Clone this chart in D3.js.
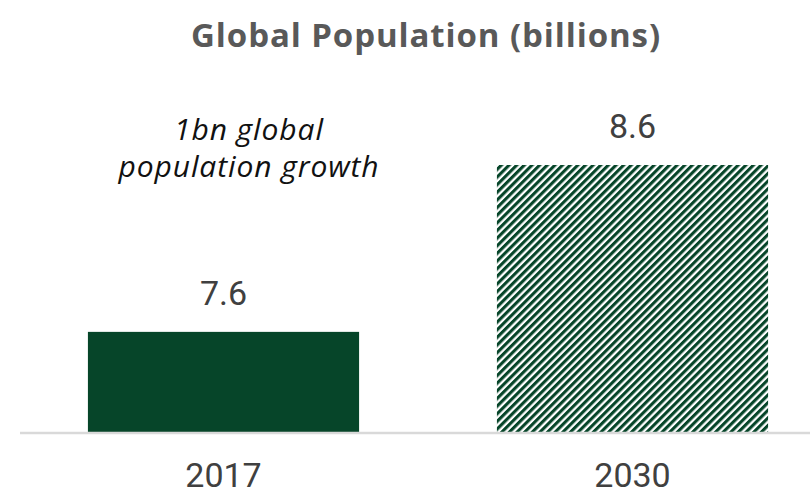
<!DOCTYPE html>
<html>
<head>
<meta charset="utf-8">
<script src="https://cdn.jsdelivr.net/npm/d3@7"></script>
<style>
  body { margin: 0; background: #fff; }
  svg { display: block; }
</style>
</head>
<body>
<svg id="chart" width="810" height="495"></svg>
<script>
// chart data
const years = ["2017", "2030"];
const population = [7.6, 8.6];
const projected = [false, true];

const svg = d3.select("#chart");
const green = "#064529";

// hatch pattern for the projected bar
const defs = svg.append("defs");
const pattern = defs.append("pattern")
    .attr("id", "hatch")
    .attr("patternUnits", "userSpaceOnUse")
    .attr("width", 5.4)
    .attr("height", 5.4)
    .attr("patternTransform", "rotate(45)");
pattern.append("rect").attr("width", 5.4).attr("height", 5.4).attr("fill", "#fff");
pattern.append("rect").attr("width", 3.1).attr("height", 5.4).attr("fill", green);

// scales (value axis does not start at zero)
const x = d3.scaleBand()
    .domain(years)
    .range([19, 837])
    .paddingInner(0.337)
    .paddingOuter(0.1685);

const y = d3.scaleLinear()
    .domain([7.0, 8.6])
    .range([432, 165]);

// title
svg.append("text")
    .attr("x", 426)
    .attr("y", 47)
    .attr("text-anchor", "middle")
    .style("font-family", "'Open Sans', sans-serif")
    .style("font-weight", "bold")
    .style("font-size", "33px")
    .style("letter-spacing", "0.9px")
    .style("fill", "#595959")
    .text("Global Population (billions)");

// bars
svg.selectAll(".bar")
    .data(years)
    .enter()
    .append("rect")
    .attr("class", "bar")
    .attr("x", d => x(d))
    .attr("width", x.bandwidth())
    .attr("y", (d, i) => y(population[i]))
    .attr("height", (d, i) => y(7.0) - y(population[i]))
    .attr("fill", (d, i) => projected[i] ? "url(#hatch)" : green);

// baseline
svg.append("line")
    .attr("x1", 20)
    .attr("x2", 810)
    .attr("y1", 433)
    .attr("y2", 433)
    .attr("stroke", "#d9d9d9")
    .attr("stroke-width", 2.5);

// value labels
svg.selectAll(".value")
    .data(years)
    .enter()
    .append("text")
    .attr("class", "value")
    .attr("x", d => x(d) + x.bandwidth() / 2)
    .attr("y", (d, i) => y(population[i]) - 27)
    .attr("text-anchor", "middle")
    .style("font-family", "Roboto, Arial, sans-serif")
    .style("font-size", "34px")
    .style("fill", "#404040")
    .text((d, i) => population[i].toFixed(1));

// category labels
const xAxis = svg.append("g")
    .attr("transform", "translate(0,433)")
    .call(d3.axisBottom(x).tickSize(0).tickPadding(0));
xAxis.select(".domain").remove();
xAxis.selectAll("text")
    .attr("dy", null)
    .attr("y", 54)
    .style("font-family", "Roboto, Arial, sans-serif")
    .style("font-size", "34px")
    .style("fill", "#404040");

// annotation, two lines
const noteLines = ["1bn global", "population growth"];
svg.selectAll(".note")
    .data(noteLines)
    .enter()
    .append("text")
    .attr("class", "note")
    .attr("x", 249)
    .attr("y", (d, i) => 140 + i * 37)
    .attr("text-anchor", "middle")
    .style("font-family", "'Open Sans', sans-serif")
    .style("font-style", "italic")
    .style("font-size", "30px")
    .style("letter-spacing", "0.9px")
    .style("fill", "#111")
    .text(d => d);
</script>
</body>
</html>
